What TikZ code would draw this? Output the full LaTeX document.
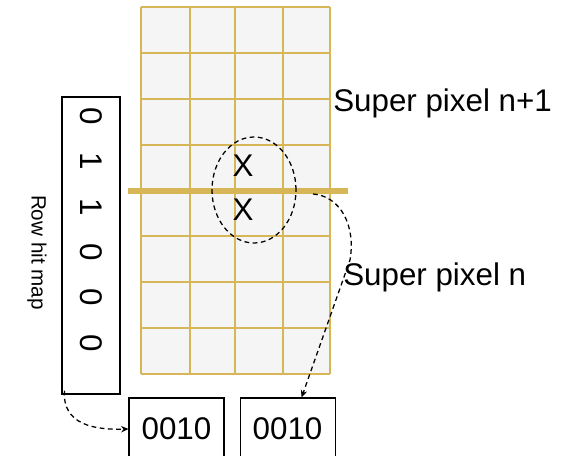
\documentclass[tikz,border=0pt]{standalone}
\usepackage{fontspec}
\setmainfont{Liberation Sans}
\usetikzlibrary{arrows.meta,positioning,calc}
\definecolor{hitInk}{HTML}{000000}
\definecolor{hitGold}{HTML}{D6B656}
\definecolor{hitFill}{HTML}{F5F5F5}
\tikzset{
  hit box/.style={draw=hitInk, line width=0.8pt, fill=white, inner sep=0pt},
  hit label/.style={font=\fontsize{23.5}{28}\selectfont, inner sep=0pt},
  hit small/.style={font=\fontsize{15.5}{18}\selectfont, inner sep=0pt},
  hit grid/.style={draw=hitGold, line width=0.85pt},
  hit seam/.style={draw=hitGold, line width=3.8pt},
  hit dash/.style={draw=hitInk, line width=0.95pt, dash pattern=on 3.6pt off 2.6pt},
  hit arrow/.style={hit dash, -{Stealth[length=5.5pt,width=4.8pt]}}
}
\begin{document}
\begin{tikzpicture}[x=0.75pt,y=-0.75pt]
  \useasboundingbox (0,0) rectangle (564,456);
  \clip (0,0) rectangle (564,456);
  % pixel matrix, two super pixels
  \fill[hitFill] (141,7) rectangle (330,374);
  \foreach \x in {141,190,235,283,330}
    \draw[hit grid] (\x,7) -- (\x,374);
  \foreach \y in {7,53,99,145,236,282,328,374}
    \draw[hit grid] (141,\y) -- (330,\y);
  \draw[hit seam] (128,191) -- (348,191);
  \draw[hit dash] (254,190) ellipse [x radius=31.5pt, y radius=39.75pt];
  \node[hit label] (hitup) at (243,166) {X};
  \node[hit label] (hitdown) at (243,210) {X};
  \node[hit label, anchor=base west] (uplabel) at (333,112) {Super pixel n+1};
  \node[hit label, anchor=base west] (downlabel) at (343,285) {Super pixel n};
  % row hit map
  \node[hit box, minimum width=43.5pt, minimum height=222.75pt] (rowmap) at (91,245.5) {};
  \node[hit label, rotate=-90] (rowbits) at (91,229.5)
    {0\hspace{21pt}1\hspace{21pt}1\hspace{21pt}0\hspace{21pt}0\hspace{21pt}0};
  \node[hit small, rotate=-90] (maplabel) at (37,252.5) {Row hit map};
  % column words
  \node[hit box, hit label, minimum width=71.25pt, minimum height=46.5pt] (leftword) at (176.5,429) {0010};
  \node[hit box, hit label, minimum width=71.25pt, minimum height=46.5pt,
    right=11.25pt of leftword] (rightword) {0010};
  \coordinate (cut) at (313,194);
  \coordinate (bend) at (350,260);
  \draw[hit arrow] ($(rowmap.south west)+(3,-4)$) .. controls (62,425) and (95,430) .. (leftword.west);
  \draw[hit arrow] (cut) .. controls (340,196) and (356,225) .. (bend)
    -- ($(rightword.north)+(14,0)$);
\end{tikzpicture}
\end{document}
